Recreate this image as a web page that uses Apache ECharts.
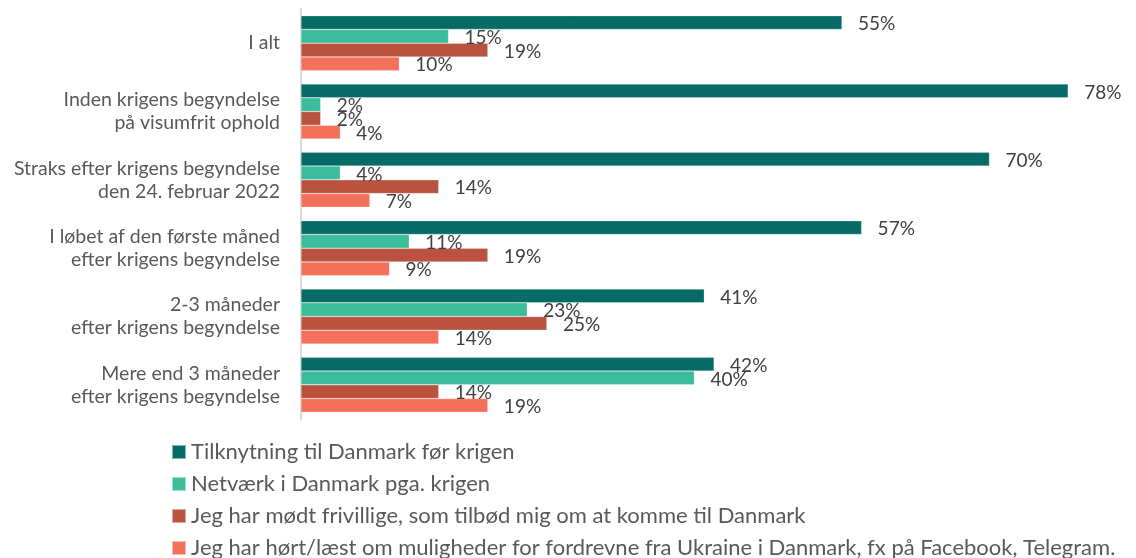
<!DOCTYPE html>
<html><head><meta charset="utf-8">
<script src="https://cdn.jsdelivr.net/npm/echarts@6/dist/echarts.min.js"></script>
<style>html,body{margin:0;padding:0;background:#fff}#c{width:1136px;height:558px}</style>
</head><body><div id="c"></div>
<script>
const categories = [
  "I alt",
  "Inden krigens begyndelse\npå visumfrit ophold",
  "Straks efter krigens begyndelse\nden 24. februar 2022",
  "I løbet af den første måned\nefter krigens begyndelse",
  "2-3 måneder\nefter krigens begyndelse",
  "Mere end 3 måneder\nefter krigens begyndelse"
];
const seriesNames = [
  "Tilknytning til Danmark før krigen",
  "Netværk i Danmark pga. krigen",
  "Jeg har mødt frivillige, som tilbød mig om at komme til Danmark",
  "Jeg har hørt/læst om muligheder for fordrevne fra Ukraine i Danmark, fx på Facebook, Telegram."
];
const tilknytning = [55, 78, 70, 57, 41, 42];
const netvaerk = [15, 2, 4, 11, 23, 40];
const frivillige = [19, 2, 14, 19, 25, 14];
const hoertLaest = [10, 4, 7, 9, 14, 19];
const colors = ["#066B67", "#3BBC9B", "#B95340", "#F3715B"];

const values = [tilknytning, netvaerk, frivillige, hoertLaest];
const chart = echarts.init(document.getElementById('c'), null, {renderer: 'canvas'});
chart.setOption({
  animation: false,
  textStyle: {fontFamily: 'Lato'},
  grid: {left: 301, top: 9, width: 777, height: 410, containLabel: false},
  xAxis: {type: 'value', min: 0, max: 79, show: false, splitLine: {show: false}},
  yAxis: {
    type: 'category', data: categories, inverse: true,
    axisLine: {show: true, lineStyle: {color: '#d9d9d9', width: 2}},
    axisTick: {show: false},
    axisLabel: {color: '#595959', fontSize: 19.5, lineHeight: 23, margin: 21, fontFamily: 'Lato', align: 'right'}
  },
  legend: {
    orient: 'vertical', left: 171, top: 441, height: 140, padding: 0,
    itemWidth: 14, itemHeight: 14, itemGap: 10, icon: 'rect',
    textStyle: {color: '#595959', fontSize: 22, lineHeight: 22, fontFamily: 'Lato'},
    data: seriesNames
  },
  series: seriesNames.map((n, i) => ({
    name: n, type: 'bar', data: values[i],
    barGap: '0%', barCategoryGap: '19.6%',
    itemStyle: {color: colors[i], borderColor: 'rgba(255,255,255,0.5)', borderWidth: 0.5},
    label: {show: true, position: 'right', distance: 16, offset: [0, 1.5], color: '#404040', fontSize: 19, fontFamily: 'Lato',
      formatter: p => p.value + '%'}
  }))
});
</script></body></html>
